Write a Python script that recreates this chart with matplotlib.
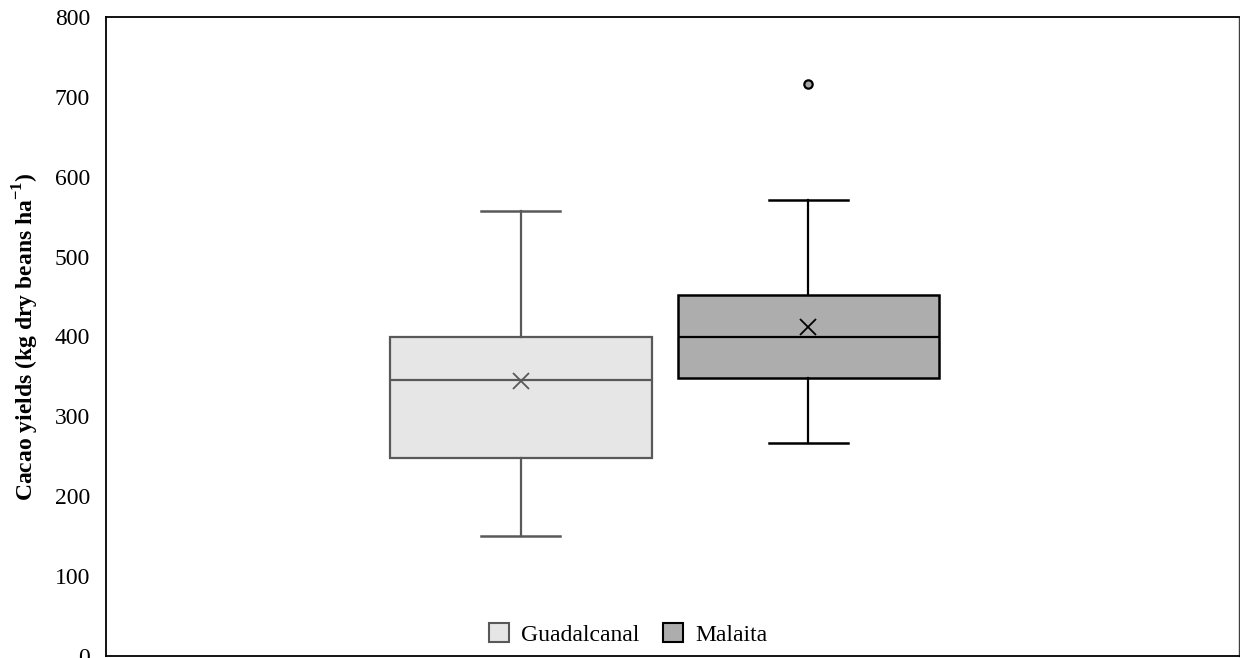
import matplotlib
matplotlib.use("Agg")
import matplotlib.pyplot as plt
from matplotlib.patches import Patch

plt.rcParams['font.family'] = ['Liberation Serif', 'DejaVu Serif']
plt.rcParams['mathtext.fontset'] = 'custom'
plt.rcParams['mathtext.rm'] = 'Liberation Serif'
plt.rcParams['mathtext.bf'] = 'Liberation Serif:bold'

# ---------------- Data ----------------
groups = ['Guadalcanal', 'Malaita']
whisker_low = [150, 267]
q1 = [248, 348]
median = [346, 400]
q3 = [400, 452]
whisker_high = [557, 571]
means = [344, 412]
outliers = [[], [716]]

fills = ['#e6e6e6', '#adadad']
edges = ['#595959', '#000000']

# ---------------- Plot ----------------
fig = plt.figure(figsize=(12.4, 6.58), dpi=100)
ax = fig.add_axes([106 / 1240, 2 / 658, 1133 / 1240, 639 / 658])

positions = [0.366, 0.620]
for i, name in enumerate(groups):
    stats = [{
        'whislo': whisker_low[i], 'q1': q1[i], 'med': median[i], 'q3': q3[i],
        'whishi': whisker_high[i], 'mean': means[i], 'fliers': outliers[i], 'label': name,
    }]
    ec = edges[i]
    lw = 1.6 if i == 0 else 1.8
    ax.bxp(stats, positions=[positions[i]], widths=0.231, patch_artist=True,
           showmeans=True, showcaps=True, manage_ticks=False,
           boxprops=dict(facecolor=fills[i], edgecolor=ec, linewidth=lw),
           medianprops=dict(color=ec, linewidth=1.6),
           whiskerprops=dict(color=ec, linewidth=1.6),
           capprops=dict(color=ec, linewidth=1.8),
           capwidths=0.07,
           meanprops=dict(marker='x', markeredgecolor=ec, markersize=12, markeredgewidth=1.3),
           flierprops=dict(marker='o', markerfacecolor='#a6a6a6', markeredgecolor='black',
                           markersize=6, markeredgewidth=1.6))

ax.set_xlim(0, 1)
ax.set_ylim(0, 800)
ax.set_yticks(range(0, 801, 100))
ax.set_xticks([])
ax.tick_params(axis='y', length=0, pad=11.5, labelsize=17)
for s in ax.spines.values():
    s.set_linewidth(1.3)
ax.spines['right'].set_color('#404040')
ax.spines['right'].set_linewidth(1.0)

ax.set_ylabel(r'Cacao yields (kg dry beans ha$^{\mathbf{-1}}$)', fontsize=17,
              fontweight='bold', labelpad=10)

handles = [Patch(facecolor=fills[i], edgecolor=edges[i], linewidth=1.5, label=groups[i])
           for i in range(len(groups))]
ax.legend(handles=handles, loc='center', bbox_to_anchor=(0.461, 0.034), ncol=2,
          frameon=False, fontsize=17, handlelength=0.85, handleheight=0.85,
          handletextpad=0.5, columnspacing=1.0)

fig.savefig('out.png', dpi=100)
